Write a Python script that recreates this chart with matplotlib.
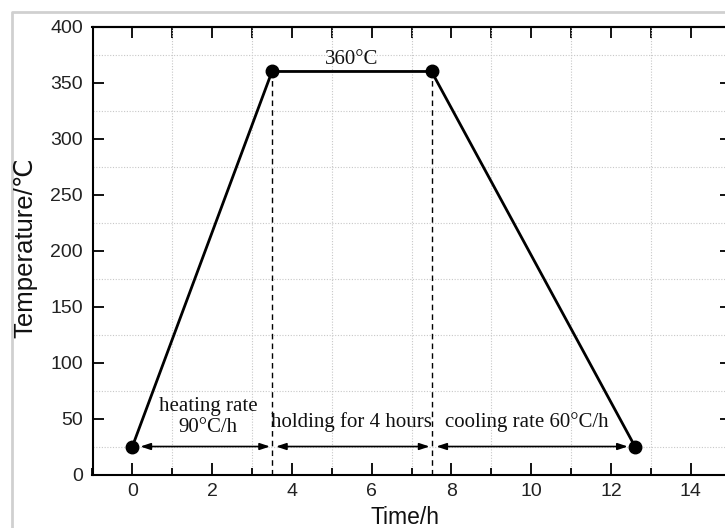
import matplotlib
matplotlib.use("Agg")
import matplotlib.pyplot as plt
from matplotlib.ticker import MultipleLocator
from matplotlib.lines import Line2D

# ---- data ----
time_h = [0, 3.5, 7.5, 12.6]
temp_c = [25, 360, 360, 25]
dash_x = [3.5, 7.5]
arrow_spans = [(0.2, 3.45), (3.6, 7.45), (7.62, 12.42)]
arrow_y = 25
notes = [("360°C", 5.5, 371), ("heating rate", 1.9, 61), ("90°C/h", 1.9, 42),
         ("holding for 4 hours", 5.5, 47), ("cooling rate 60°C/h", 9.9, 47)]
xticks = [0, 2, 4, 6, 8, 10, 12, 14]
yticks = [0, 50, 100, 150, 200, 250, 300, 350, 400]

W, H = 725, 528
fig = plt.figure(figsize=(W / 100, H / 100), dpi=100)
left, right, top, bottom = 92.5, 730.7, 26.7, 474.5
ax = fig.add_axes([left / W, 1 - bottom / H, (right - left) / W, (bottom - top) / H])

sans = ["Liberation Sans", "DejaVu Sans"]
serif = ["Liberation Serif", "DejaVu Serif"]

ax.set_xlim(-1, 15)
ax.set_ylim(0, 400)
ax.set_xticks(xticks)
ax.set_yticks(yticks)
ax.xaxis.set_minor_locator(MultipleLocator(1))
ax.set_yticks([25 + 50 * k for k in range(8)], minor=True)
ax.grid(which="minor", linestyle=(0, (1, 1.5)), color="#c8c8c8", lw=0.8)
ax.grid(which="major", visible=False)
ax.set_axisbelow(True)

ax.tick_params(axis="x", which="major", direction="in", length=9, width=1.3, pad=6,
               labelsize=14)
ax.tick_params(axis="x", which="minor", direction="in", length=5, width=1.3)
ax.tick_params(axis="y", which="major", direction="in", length=8, width=1.3, pad=7,
               labelsize=14)
ax.tick_params(axis="y", which="minor", length=0)
for lab in ax.get_xticklabels() + ax.get_yticklabels():
    lab.set_family(sans)
    lab.set_color("#222222")
for s in ax.spines.values():
    s.set_linewidth(1.5)

secx = ax.secondary_xaxis("top")
secx.set_xticks(list(range(-1, 16)))
secx.tick_params(direction="in", length=8, width=1.3, labeltop=False)
secx.spines["top"].set_linewidth(1.5)
secy = ax.secondary_yaxis("right")
secy.set_yticks(yticks)
secy.tick_params(direction="in", length=8, width=1.3, labelright=False)

# dashed guides
for xv in dash_x:
    ax.plot([xv, xv], [0, 360], linestyle=(0, (4, 3)), color="black", lw=1.0)

# main profile
ax.plot(time_h, temp_c, color="black", lw=2.0, marker="o", markersize=9, zorder=5)

# arrows
for a, b in arrow_spans:
    ax.annotate("", xy=(b, arrow_y), xytext=(a, arrow_y),
                arrowprops=dict(arrowstyle="<|-|>,head_length=0.6,head_width=0.2",
                                color="black", lw=1.2, shrinkA=0, shrinkB=0))

# notes
for txt, x, y in notes:
    ax.text(x, y, txt, family=serif, fontsize=15, ha="center", va="center",
            color="#111111")

fig.text(405 / W, 1 - 517 / H, "Time/h", family=sans, fontsize=16.5, ha="center",
         va="center", color="#111111")
fig.text(25 / W, 1 - 248 / H, "Temperature/℃", family=["Liberation Sans", "DejaVu Sans"],
         fontsize=18.5, ha="center", va="center", rotation=90, color="#111111")

# light frame border
fig.add_artist(Line2D([12 / W, 12 / W, 1.0], [0, 1 - 12 / H, 1 - 12 / H],
                      transform=fig.transFigure, color="#d0d0d0", lw=2.0))

fig.savefig("out.png", dpi=100)
